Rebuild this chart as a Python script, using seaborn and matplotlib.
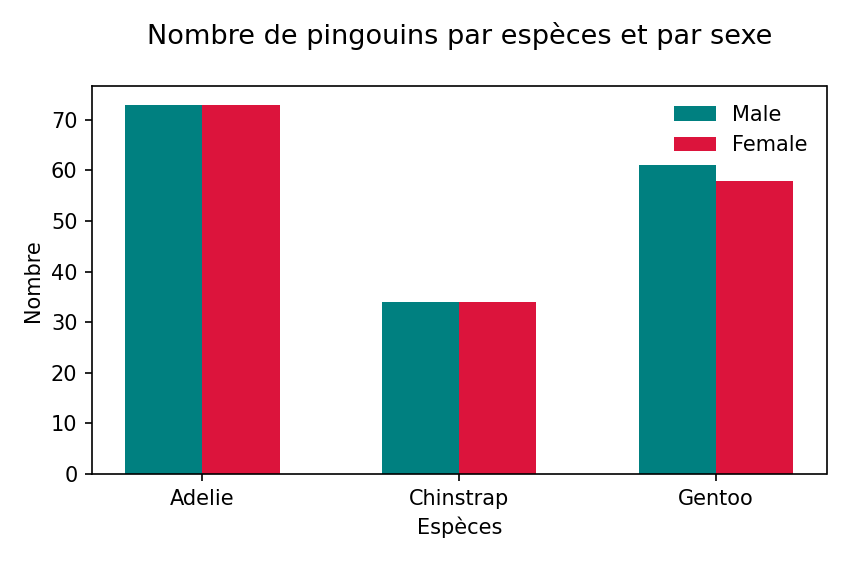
import matplotlib
matplotlib.use("Agg")
import matplotlib.pyplot as plt
import seaborn as sns
import pandas as pd

species = ["Adelie", "Chinstrap", "Gentoo"]
male = [73, 34, 61]
female = [73, 34, 58]

df = pd.DataFrame({
    "species": species * 2,
    "sex": ["Male"] * 3 + ["Female"] * 3,
    "count": male + female,
})

fig, ax = plt.subplots(figsize=(5.66, 3.74), dpi=150)
sns.barplot(data=df, x="species", y="count", hue="sex",
            palette={"Male": "#008080", "Female": "#DC143C"},
            width=0.6, saturation=1, ax=ax)
ax.set_xlim(-0.43, 2.43)
ax.set_ylim(0, 76.65)
ax.set_title("Nombre de pingouins par espèces et par sexe", fontsize=13, pad=20)
ax.set_xlabel("Espèces")
ax.set_ylabel("Nombre")
ax.legend(title=None, frameon=False, loc="upper right")
fig.tight_layout()
fig.savefig("out.png")
